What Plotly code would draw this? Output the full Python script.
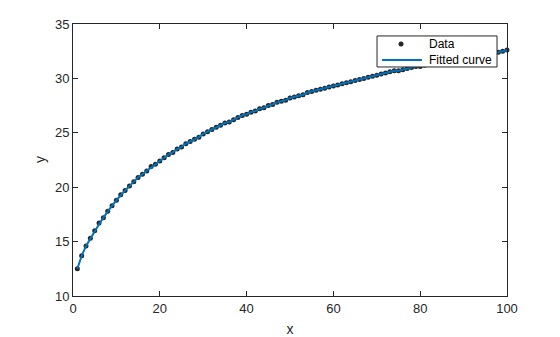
import plotly.graph_objects as go

x_data = list(range(1, 101))
y_data = [12.5, 13.7, 14.6, 15.3, 16.0, 16.7, 17.2, 17.8, 18.3, 18.8,
          19.3, 19.7, 20.1, 20.5, 20.9, 21.2, 21.5, 21.9, 22.1, 22.4,
          22.7, 23.0, 23.2, 23.5, 23.7, 24.0, 24.2, 24.4, 24.6, 24.9,
          25.1, 25.3, 25.5, 25.7, 25.9, 26.0, 26.2, 26.4, 26.6, 26.7,
          26.9, 27.0, 27.2, 27.3, 27.5, 27.6, 27.8, 27.9, 28.0, 28.2,
          28.3, 28.4, 28.5, 28.7, 28.8, 28.9, 29.0, 29.1, 29.2, 29.3,
          29.4, 29.5, 29.6, 29.7, 29.8, 29.9, 30.0, 30.1, 30.2, 30.3,
          30.4, 30.5, 30.6, 30.7, 30.7, 30.8, 30.9, 31.0, 31.1, 31.1,
          31.2, 31.3, 31.4, 31.4, 31.5, 31.6, 31.7, 31.7, 31.8, 31.9,
          31.9, 32.0, 32.1, 32.1, 32.2, 32.3, 32.4, 32.4, 32.5, 32.6]

x_fit = list(range(1, 101))
y_fit = [12.5, 13.7, 14.6, 15.3, 16.0, 16.6, 17.2, 17.8, 18.3, 18.8,
         19.3, 19.7, 20.1, 20.5, 20.9, 21.2, 21.5, 21.8, 22.1, 22.4,
         22.7, 23.0, 23.2, 23.5, 23.7, 24.0, 24.2, 24.4, 24.6, 24.9,
         25.1, 25.3, 25.5, 25.7, 25.9, 26.0, 26.2, 26.4, 26.6, 26.7,
         26.9, 27.0, 27.2, 27.3, 27.5, 27.6, 27.8, 27.9, 28.0, 28.2,
         28.3, 28.4, 28.5, 28.7, 28.8, 28.9, 29.0, 29.1, 29.2, 29.3,
         29.4, 29.5, 29.6, 29.7, 29.8, 29.9, 30.0, 30.1, 30.2, 30.3,
         30.4, 30.5, 30.6, 30.7, 30.7, 30.8, 30.9, 31.0, 31.1, 31.1,
         31.2, 31.3, 31.4, 31.4, 31.5, 31.6, 31.7, 31.7, 31.8, 31.9,
         31.9, 32.0, 32.1, 32.1, 32.2, 32.3, 32.4, 32.4, 32.5, 32.6]

x_ticks = [0, 20, 40, 60, 80, 100]
y_ticks = [10, 15, 20, 25, 30, 35]
legend_labels = ["Data", "Fitted curve"]

DARK = "#262626"
BLUE = "#0072BD"

fig = go.Figure()
fig.add_trace(go.Scatter(x=x_data, y=y_data, mode="markers", name=legend_labels[0],
                         marker=dict(color=DARK, size=5),
                         cliponaxis=False, showlegend=False))
fig.add_trace(go.Scatter(x=x_fit, y=y_fit, mode="lines", name=legend_labels[1],
                         line=dict(color=BLUE, width=2),
                         cliponaxis=False, showlegend=False))

axis_common = dict(showgrid=False, zeroline=False, showline=True, linecolor=DARK,
                   linewidth=1, mirror="ticks", ticks="inside", ticklen=5,
                   tickcolor=DARK, tickfont=dict(size=13, color=DARK),
                   automargin=False)
fig.update_xaxes(range=[0, 100], tickvals=x_ticks,
                 title=dict(text="x", font=dict(size=14, color=DARK)),
                 **axis_common)
fig.update_yaxes(range=[10, 35], tickvals=y_ticks, **axis_common)

# Legend box (MATLAB-style compact legend)
lx0, lx1, ly0, ly1 = 0.7005, 0.977, 0.842, 0.956
row_y = [0.9265, 0.8676]
shapes = [
    dict(type="rect", xref="paper", yref="paper", x0=lx0, x1=lx1, y0=ly0, y1=ly1,
         fillcolor="white", line=dict(color=DARK, width=1), layer="above"),
    dict(type="circle", xref="paper", yref="paper", xsizemode="pixel", ysizemode="pixel",
         xanchor=0.7558, yanchor=row_y[0], x0=-2.5, x1=2.5, y0=-2.5, y1=2.5,
         fillcolor=DARK, line=dict(color=DARK, width=0), layer="above"),
    dict(type="line", xref="paper", yref="paper", x0=0.712, x1=0.804,
         y0=row_y[1], y1=row_y[1], line=dict(color=BLUE, width=2), layer="above"),
]
annotations = [
    dict(text=legend_labels[i], xref="paper", yref="paper", x=0.8157, y=row_y[i],
         xanchor="left", yanchor="middle", showarrow=False,
         font=dict(size=12, color="black"))
    for i in range(2)
]
# y-axis title
annotations.append(dict(text="y", xref="paper", yref="paper", x=-0.076, y=0.5,
                        xanchor="center", yanchor="middle", textangle=-90,
                        showarrow=False, font=dict(size=14, color=DARK)))

fig.update_layout(
    width=560, height=337,
    margin=dict(l=73, r=53, t=24, b=41),
    paper_bgcolor="white", plot_bgcolor="white",
    font=dict(family="Liberation Sans, Arial, sans-serif", color=DARK),
    shapes=shapes, annotations=annotations,
    showlegend=False,
)

fig.write_html("out.html")
